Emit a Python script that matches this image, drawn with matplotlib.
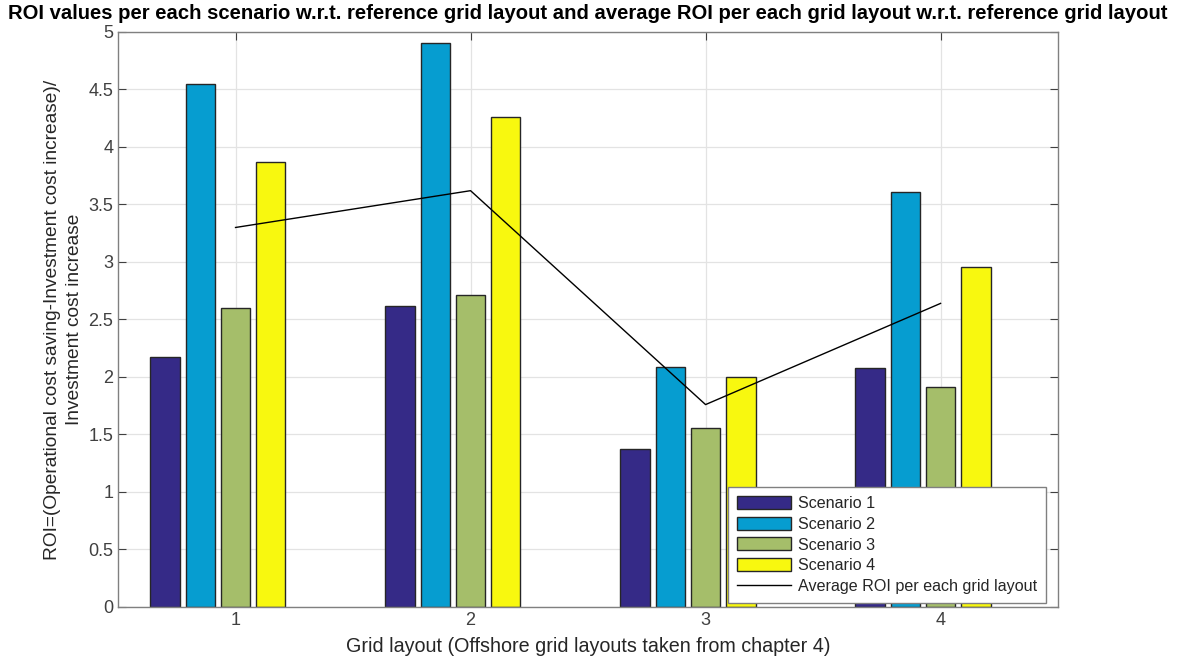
"""ROI per scenario bar chart (MATLAB style)"""

import matplotlib

matplotlib.use("Agg")
import matplotlib.pyplot as plt
import numpy as np

plt.rcParams["font.family"] = ["Liberation Sans", "DejaVu Sans"]

# データ
layouts = [1, 2, 3, 4]
scenario_names = ["Scenario 1", "Scenario 2", "Scenario 3", "Scenario 4"]
scenario_1 = [2.17, 2.62, 1.37, 2.08]
scenario_2 = [4.55, 4.90, 2.09, 3.61]
scenario_3 = [2.60, 2.71, 1.56, 1.91]
scenario_4 = [3.87, 4.26, 2.00, 2.96]
average_roi = [3.30, 3.62, 1.76, 2.64]

colors = ["#352A87", "#069DD0", "#A5BE6A", "#F8F80F"]
offsets = [-0.30, -0.15, 0.0, 0.15]
bar_width = 0.125
text_col = "#262626"

fig = plt.figure(figsize=(11.78, 6.66), dpi=100)
ax = fig.add_axes([0.1002, 0.0886, 0.7980, 0.8634])

x = np.array(layouts, dtype=float)
bar_handles = []
for vals, name, col, off in zip(
    [scenario_1, scenario_2, scenario_3, scenario_4], scenario_names, colors, offsets
):
    b = ax.bar(
        x + off,
        vals,
        width=bar_width,
        color=col,
        edgecolor="#262626",
        linewidth=1.0,
        label=name,
        zorder=2,
    )
    bar_handles.append(b)

(line,) = ax.plot(x, average_roi, color="black", linewidth=1.0,
                  label="Average ROI per each grid layout", zorder=3)

# 軸
ax.set_xlim(0.5, 4.5)
ax.set_ylim(0, 5)
ax.set_xticks(layouts)
ax.set_yticks(np.arange(0, 5.01, 0.5))
ax.set_yticklabels(["0", "0.5", "1", "1.5", "2", "2.5", "3", "3.5", "4", "4.5", "5"])
ax.tick_params(direction="in", top=True, right=True, labelsize=13,
               colors="#404040", labelcolor="#404040", length=6, width=0.8)
ax.grid(True, color="#E3E3E3", linewidth=0.9, zorder=0)
ax.set_axisbelow(True)
for s in ax.spines.values():
    s.set_color("#808080")
    s.set_linewidth(1.0)

ax.set_title(
    "ROI values per each scenario w.r.t. reference grid layout and average ROI "
    "per each grid layout w.r.t. reference grid layout",
    fontsize=14.6, fontweight="bold", pad=9,
)
ax.set_xlabel("Grid layout (Offshore grid layouts taken from chapter 4)",
              fontsize=14.2, color=text_col, labelpad=6)
ax.set_ylabel("ROI=(Operational cost saving-Investment cost increase)/\n"
              "Investment cost increase",
              fontsize=13.8, color=text_col, labelpad=4, linespacing=1.35)

leg = ax.legend(bar_handles + [line],
                scenario_names + ["Average ROI per each grid layout"],
                loc="lower right", bbox_to_anchor=(0.987, 0.007), fontsize=11.6,
                fancybox=False, framealpha=1, edgecolor="#808080",
                handlelength=3.4, handleheight=0.85, labelspacing=0.36,
                borderpad=0.55, handletextpad=0.4, borderaxespad=0)
leg.get_frame().set_linewidth(1.0)
for t in leg.get_texts():
    t.set_color(text_col)

plt.savefig("out.png", dpi=100)
plt.close()
